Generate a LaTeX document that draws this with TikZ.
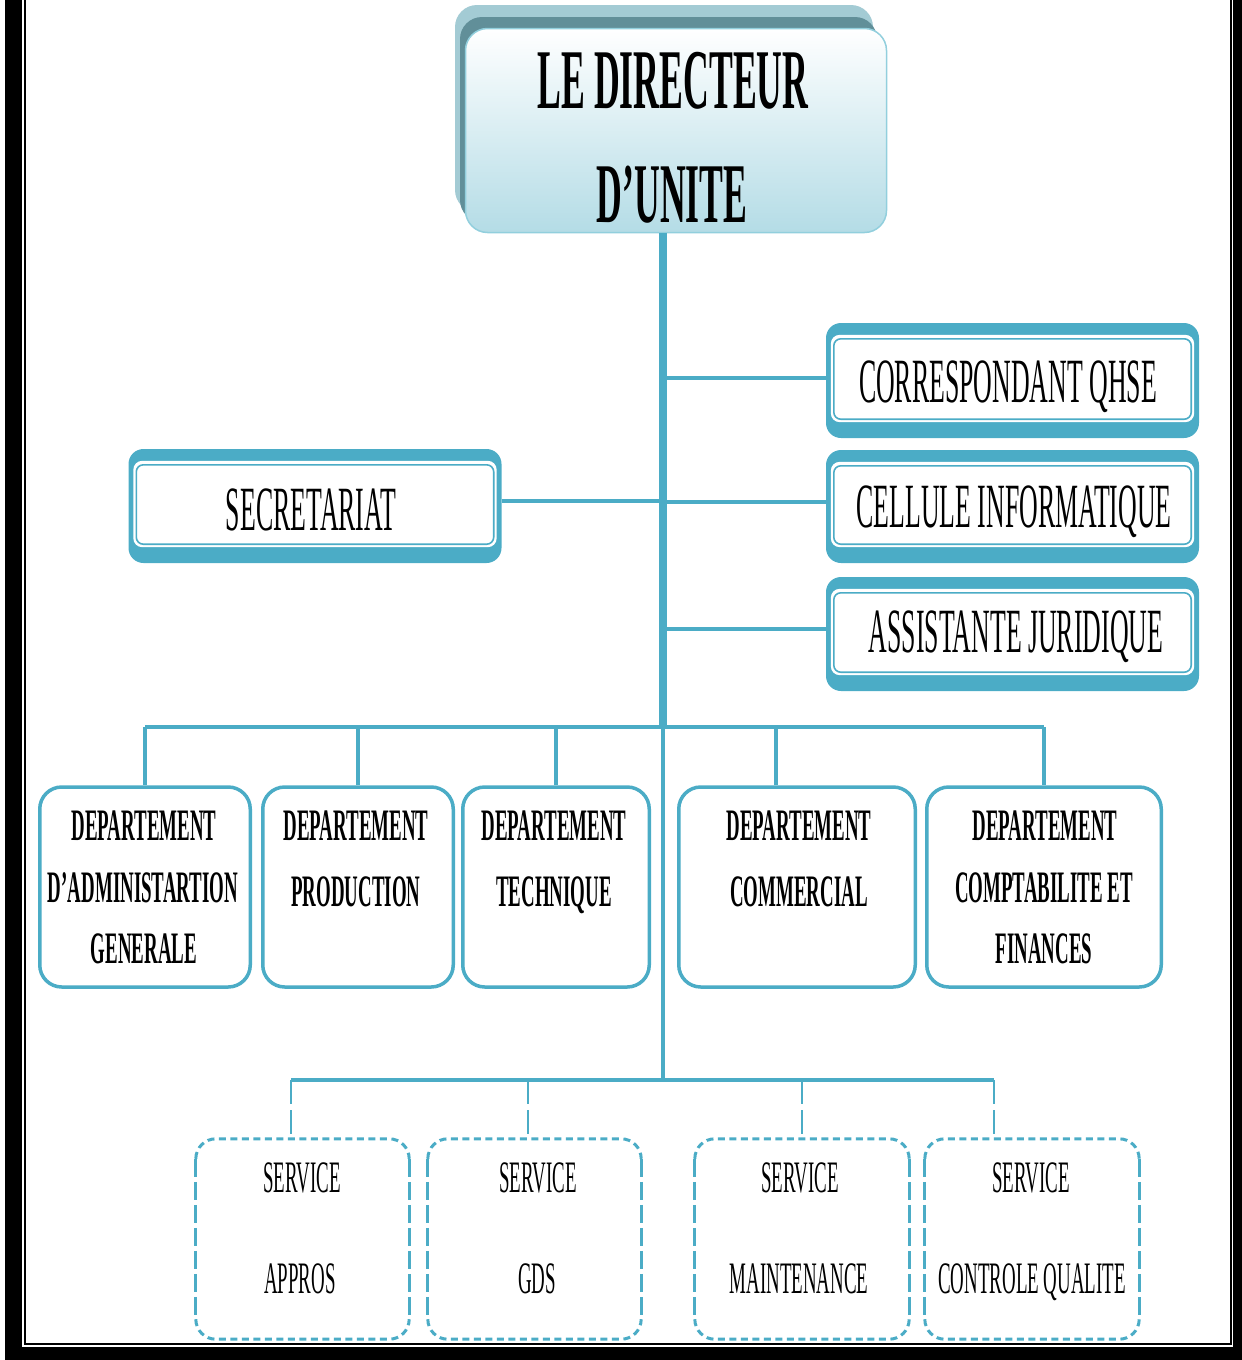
\documentclass[tikz,border=0pt]{standalone}
\usepackage{fontspec}
\newfontfamily\narrowserif[FakeStretch=0.42]{Liberation Serif}
\newfontfamily\narrowframe[FakeStretch=0.41]{Liberation Serif}
\usetikzlibrary{calc}
\definecolor{aqua}{HTML}{4BACC6}
\definecolor{aquapale}{HTML}{B4DCE6}
\definecolor{aquaedge}{HTML}{92CFDD}
\definecolor{shadelight}{HTML}{A3CBD4}
\definecolor{shadedark}{HTML}{618F99}

\tikzset{
  dirbox/.style={rounded corners=22pt, top color=white, bottom color=aquapale,
    draw=aquaedge, line width=1.5pt, minimum width=421pt, minimum height=204pt, inner sep=0pt},
  dirtext/.style={font=\narrowserif\bfseries\fontsize{85pt}{90pt}\selectfont, inner sep=0pt, anchor=base},
  framebox/.style={fill=aqua, rounded corners=15pt, minimum width=373pt, inner sep=0pt},
  frametext/.style={font=\narrowframe\fontsize{63pt}{70pt}\selectfont, inner sep=0pt, anchor=base},
  deptbox/.style={draw=aqua, fill=white, line width=3.5pt, rounded corners=22pt,
    minimum height=200pt, inner sep=0pt},
  depttext/.style={font=\narrowserif\bfseries\fontsize{45pt}{50pt}\selectfont, inner sep=0pt, anchor=base},
  svcbox/.style={minimum width=210pt, minimum height=200pt, inner sep=0pt},
  svctext/.style={font=\narrowserif\fontsize{45pt}{50pt}\selectfont, inner sep=0pt, anchor=base},
  svcshort/.style={draw=aqua, line width=3pt, dash pattern=on 7pt off 4.5pt, rounded corners=20pt},
  svclong/.style={draw=aqua, line width=3pt, dash pattern=on 18pt off 5pt},
  trunk/.style={draw=aqua, line width=8pt},
  link/.style={draw=aqua, line width=4pt},
  droplink/.style={draw=aqua, line width=3.5pt},
  dashlink/.style={draw=aqua, line width=2.5pt, dash pattern=on 24pt off 6pt},
}

% white interior and thin inner rule of a framed box
\newcommand\framedinner[1]{%
  \fill[white, rounded corners=9pt] ($(#1.north west)+(5,12)$) rectangle ($(#1.south east)+(-5,-16)$);
  \draw[aqua, line width=1.6pt, rounded corners=7pt] ($(#1.north west)+(8,16)$) rectangle ($(#1.south east)+(-8,-19)$);
}
% dashed outline of a service box
\newcommand\svcoutline[1]{%
  \draw[svcshort] ($(#1.north west)+(0,20)$) -- (#1.north west) -- (#1.north east) -- ($(#1.north east)+(0,20)$);
  \draw[svcshort] ($(#1.south west)+(0,-20)$) -- (#1.south west) -- (#1.south east) -- ($(#1.south east)+(0,-20)$);
  \draw[svclong] ($(#1.north west)+(0,20)$) -- ($(#1.south west)+(0,-20)$);
  \draw[svclong] ($(#1.north east)+(0,20)$) -- ($(#1.south east)+(0,-20)$);
}

\begin{document}
\begin{tikzpicture}[x=1pt,y=-1pt]
\useasboundingbox (0,0) rectangle (1242,1360);

% page border
\fill[black] (5,0) rectangle (22,1360);
\fill[black] (1233,0) rectangle (1242,1360);
\fill[black] (5,1347) rectangle (1242,1360);
\draw[black, line width=2pt] (25,0) -- (25,1344) -- (1231,1344) -- (1231,0);

% junction points of the trunk
\coordinate (hub) at (663,727);
\coordinate (hublow) at (663,1080);

% director box with its layered shadow
\fill[shadelight, rounded corners=22pt] (455,5) rectangle (873,212);
\fill[shadedark, rounded corners=22pt] (460,17) rectangle (877,222);
\node[dirbox] (dir) at (676,130.5) {};
\node[dirtext] (dirA) at (673,108) {LE DIRECTEUR};
\node[dirtext] (dirB) at (672,222) {D’UNITE};

% trunk
\draw[trunk] (dir.south -| hub) -- (hub);
\draw[link] (hub) -- (hublow);

% staff boxes
\node[framebox, minimum height=115pt] (qhse) at (1012.5,380.5) {};
\node[framebox, minimum height=113pt] (cell) at (1012.5,506.5) {};
\node[framebox, minimum height=114pt] (assist) at (1012.5,634) {};
\node[framebox, minimum height=114pt] (secr) at (315,506) {};
\framedinner{qhse}
\framedinner{cell}
\framedinner{assist}
\framedinner{secr}
\node[frametext] (qhseT) at (1008,402) {CORRESPONDANT QHSE};
\node[frametext] (cellT) at (1014,527) {CELLULE INFORMATIQUE};
\node[frametext] (assistT) at (1016,652) {ASSISTANTE JURIDIQUE};
\node[frametext] (secrT) at (311,530) {SECRETARIAT};

\coordinate (qhseIn) at ($(qhse.west)+(0,-3)$);
\coordinate (cellIn) at ($(cell.west)+(0,-5)$);
\coordinate (assistIn) at ($(assist.west)+(0,-5)$);
\coordinate (secrIn) at ($(secr.east)+(0,-5)$);
\draw[link] (qhseIn -| hub) -- (qhseIn);
\draw[link] (cellIn -| hub) -- (cellIn);
\draw[link] (assistIn -| hub) -- (assistIn);
\draw[link] (secrIn) -- (secrIn -| hub);

% departments
\node[deptbox, minimum width=210.5pt] (d1) at (145,887) {};
\node[deptbox, minimum width=190.5pt] (d2) at (358,887) {};
\node[deptbox, minimum width=186.5pt] (d3) at (556,887) {};
\node[deptbox, minimum width=236.5pt] (d4) at (797,887) {};
\node[deptbox, minimum width=234.5pt] (d5) at (1044,887) {};
\coordinate (d4top) at ($(d4.north)+(-21,0)$);
\draw[link] (d1.north |- hub) -- (d5.north |- hub);
\draw[droplink] (d1.north |- hub) -- (d1.north);
\draw[droplink] (d2.north |- hub) -- (d2.north);
\draw[droplink] (d3.north |- hub) -- (d3.north);
\draw[droplink] (d4top |- hub) -- (d4top);
\draw[droplink] (d5.north |- hub) -- (d5.north);

\node[depttext] (d1a) at (144,840) {DEPARTEMENT};
\node[depttext] (d1b) at (143,902) {D’ADMINISTARTION};
\node[depttext] (d1c) at (144,963) {GENERALE};
\node[depttext] (d2a) at (356,840) {DEPARTEMENT};
\node[depttext] (d2b) at (356,906) {PRODUCTION};
\node[depttext] (d3a) at (554,840) {DEPARTEMENT};
\node[depttext] (d3b) at (554,906) {TECHNIQUE};
\node[depttext] (d4a) at (799,840) {DEPARTEMENT};
\node[depttext] (d4b) at (799,906) {COMMERCIAL};
\node[depttext] (d5a) at (1045,840) {DEPARTEMENT};
\node[depttext] (d5b) at (1044,902) {COMPTABILITE ET};
\node[depttext] (d5c) at (1044,963) {FINANCES};

% services
\node[svcbox, minimum width=213pt] (s1) at (302.5,1239) {};
\node[svcbox, minimum width=213pt] (s2) at (534.5,1239) {};
\node[svcbox, minimum width=214pt] (s3) at (802,1239) {};
\node[svcbox, minimum width=214pt] (s4) at (1032,1239) {};
\svcoutline{s1}
\svcoutline{s2}
\svcoutline{s3}
\svcoutline{s4}

\coordinate (sbarL) at (291,1080);
\coordinate (sbarR) at (994,1080);
\coordinate (s2top) at ($(s2.north)+(-6.5,0)$);
\draw[link] (sbarL) -- (sbarR);
\draw[dashlink] (sbarL) -- (s1.north -| sbarL);
\draw[dashlink] (s2top |- sbarL) -- (s2top);
\draw[dashlink] (s3.north |- sbarL) -- (s3.north);
\draw[dashlink] (sbarR) -- (s4.north -| sbarR);

\node[svctext] (s1a) at (302,1192) {SERVICE};
\node[svctext] (s1b) at (300,1293) {APPROS};
\node[svctext] (s2a) at (538,1192) {SERVICE};
\node[svctext] (s2b) at (537,1293) {GDS};
\node[svctext] (s3a) at (800,1192) {SERVICE};
\node[svctext] (s3b) at (799,1293) {MAINTENANCE};
\node[svctext] (s4a) at (1031,1192) {SERVICE};
\node[svctext] (s4b) at (1032,1293) {CONTROLE QUALITE};
\end{tikzpicture}
\end{document}
